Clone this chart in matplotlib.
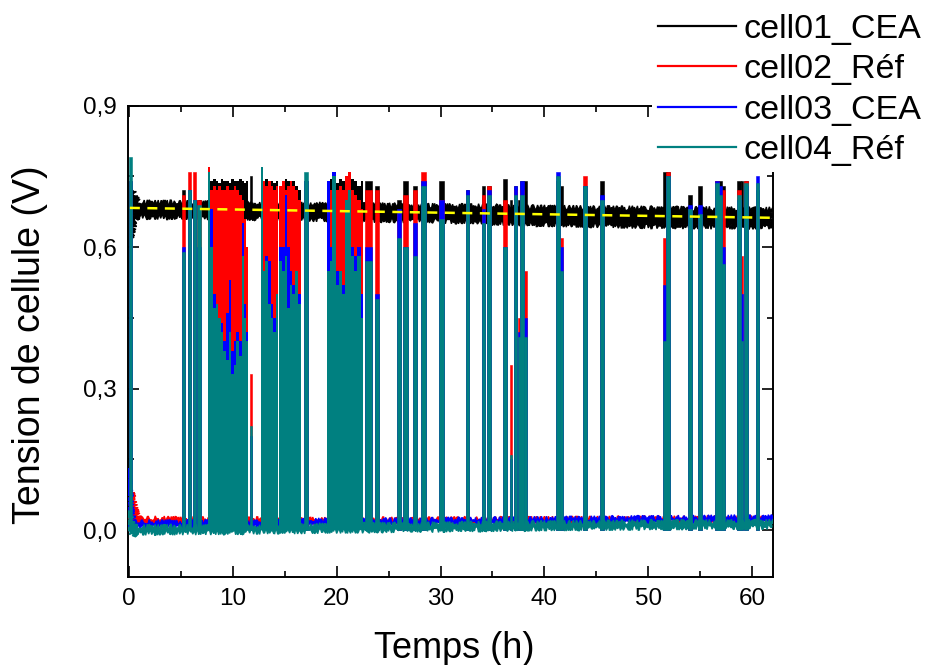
import numpy as np
import matplotlib
matplotlib.use('Agg')
import matplotlib.pyplot as plt
from matplotlib.lines import Line2D
from matplotlib.ticker import MultipleLocator, FuncFormatter

plt.rcParams['font.family'] = ['Liberation Sans', 'DejaVu Sans']

labels = ['cell01_CEA', 'cell02_Réf', 'cell03_CEA', 'cell04_Réf']
colors = ['#000000', '#FF0000', '#0000FF', '#008080']

# --- baseline bands (h, V) ---
base_t = [0.05, 0.35, 0.5, 0.75, 1.0, 10, 20, 30, 40, 50, 62]
red_lo = [0.014, 0.014, 0.014, 0.014, 0.014, 0.015, 0.016, 0.017, 0.018, 0.019, 0.020]
red_hi = [0.030, 0.080, 0.065, 0.040, 0.025, 0.023, 0.022, 0.023, 0.024, 0.025, 0.026]
blue_lo = [0.000, 0.008, 0.008, 0.008, 0.008, 0.009, 0.013, 0.014, 0.016, 0.018, 0.019]
blue_hi = [0.130, 0.030, 0.020, 0.018, 0.017, 0.018, 0.021, 0.022, 0.024, 0.026, 0.028]
teal_lo = [-0.005, -0.012, -0.010, -0.006, -0.006, -0.005, -0.002, 0.000, 0.003, 0.005, 0.006]
teal_hi = [0.040, 0.020, 0.010, 0.008, 0.007, 0.007, 0.011, 0.013, 0.015, 0.017, 0.018]

black_t = [0.3, 0.6, 1.0, 10, 20, 30, 40, 50, 62]
black_lo = [0.620, 0.655, 0.664, 0.662, 0.658, 0.655, 0.648, 0.644, 0.642]
black_hi = [0.730, 0.710, 0.695, 0.693, 0.690, 0.688, 0.684, 0.682, 0.680]

# linear fit (yellow dashed)
fit_t = [0.1, 62]
fit_v = [0.683, 0.662]

# --- isolated spikes ---
spike_t = [0.2, 5.25, 5.85, 6.3, 6.75, 11.8, 17.05, 23.05, 23.9, 26.0, 26.6, 27.55,
           28.35, 30.1, 32.6, 34.15, 34.65, 36.2, 36.8, 37.2, 37.6, 37.85, 38.15,
           41.3, 41.65, 43.9, 45.55, 51.6, 51.9, 54.0, 55.0, 56.6, 56.9, 57.2,
           58.7, 59.0, 59.4, 60.5]
spike_w = [0.3, 0.3, 0.35, 0.3, 0.3, 0.2, 0.35, 0.65, 0.4, 0.45, 0.45, 0.45,
           0.5, 0.4, 0.35, 0.35, 0.35, 0.35, 0.2, 0.35, 0.2, 0.35, 0.25,
           0.45, 0.3, 0.35, 0.35, 0.3, 0.35, 0.35, 0.4, 0.35, 0.35, 0.3,
           0.4, 0.25, 0.35, 0.35]
teal_pk = [0.79, 0.59, 0.72, 0.70, 0.69, 0.22, 0.76, 0.57, 0.49, 0.62, 0.60, 0.58,
           0.73, 0.66, 0.71, 0.65, 0.71, 0.60, 0.16, 0.71, 0.41, 0.71, 0.41,
           0.75, 0.55, 0.73, 0.70, 0.40, 0.75, 0.68, 0.67, 0.735, 0.71, 0.565,
           0.71, 0.40, 0.735, 0.735]
red_pk = [0.74, 0.71, 0.76, 0.76, 0.70, 0.33, 0.74, 0.72, 0.72, 0.67, 0.71, 0.72,
          0.76, 0.70, 0.70, 0.71, 0.73, 0.70, 0.35, 0.72, 0.45, 0.72, 0.55,
          0.74, 0.62, 0.75, 0.66, 0.62, 0.76, 0.68, 0.67, 0.74, 0.72, 0.72,
          0.72, 0.58, 0.74, 0.70]
blue_pk = [0.74, 0.60, 0.72, 0.70, 0.60, 0.20, 0.74, 0.60, 0.50, 0.68, 0.60, 0.65,
           0.74, 0.70, 0.72, 0.68, 0.72, 0.60, 0.15, 0.73, 0.42, 0.74, 0.45,
           0.76, 0.60, 0.73, 0.71, 0.52, 0.75, 0.69, 0.69, 0.74, 0.73, 0.60,
           0.70, 0.50, 0.73, 0.75]
black_pk = [0.72, 0.72, 0.70, 0.70, 0.70, 0.75, 0.74, 0.74, 0.73, 0.70, 0.74, 0.73,
            0.74, 0.74, 0.72, 0.73, 0.73, 0.745, 0.70, 0.73, 0.70, 0.74, 0.74,
            0.74, 0.73, 0.73, 0.74, 0.76, 0.76, 0.71, 0.73, 0.74, 0.74, 0.73,
            0.74, 0.74, 0.74, 0.72]

# --- dense oscillation blocks (segment edges, then top of each segment) ---
blkA_t = [7.65, 7.85, 8.1, 8.35, 8.6, 8.85, 9.1, 9.35, 9.6, 9.85, 10.1, 10.35, 10.6, 10.85, 11.1, 11.3, 11.5]
blkA_teal = [0.76, 0.60, 0.47, 0.48, 0.45, 0.42, 0.38, 0.36, 0.42, 0.33, 0.35, 0.40, 0.37, 0.58, 0.45, 0.40]
blkA_red = [0.77, 0.72, 0.73, 0.72, 0.73, 0.72, 0.72, 0.73, 0.72, 0.72, 0.73, 0.72, 0.71, 0.70, 0.66, 0.60]
blkA_blue = [0.70, 0.68, 0.50, 0.48, 0.45, 0.44, 0.40, 0.46, 0.53, 0.38, 0.40, 0.42, 0.40, 0.65, 0.48, 0.42]
blkA_black = [0.72, 0.74, 0.745, 0.74, 0.735, 0.745, 0.74, 0.74, 0.735, 0.745, 0.74, 0.74, 0.745, 0.74, 0.735, 0.74]

blkB_t = [12.7, 12.9, 13.15, 13.4, 13.65, 13.9, 14.15, 14.4, 14.5, 14.75, 15.0, 15.25, 15.5, 15.75, 16.0, 16.25, 16.6]
blkB_teal = [0.77, 0.55, 0.57, 0.48, 0.45, 0.42, 0.50, 0.0, 0.57, 0.55, 0.58, 0.47, 0.52, 0.50, 0.55, 0.48]
blkB_red = [0.77, 0.74, 0.73, 0.74, 0.73, 0.72, 0.73, 0.0, 0.73, 0.74, 0.72, 0.73, 0.74, 0.73, 0.72, 0.70]
blkB_blue = [0.75, 0.55, 0.58, 0.57, 0.48, 0.45, 0.50, 0.0, 0.60, 0.60, 0.71, 0.60, 0.55, 0.52, 0.55, 0.50]
blkB_black = [0.74, 0.74, 0.745, 0.73, 0.74, 0.735, 0.74, 0.69, 0.72, 0.74, 0.745, 0.74, 0.735, 0.74, 0.73, 0.72]

blkC_t = [19.1, 19.35, 19.6, 19.9, 20.2, 20.5, 20.8, 21.1, 21.4, 21.7, 22.0, 22.3, 22.55]
blkC_teal = [0.55, 0.57, 0.75, 0.52, 0.55, 0.50, 0.70, 0.72, 0.58, 0.55, 0.58, 0.45]
blkC_red = [0.71, 0.72, 0.76, 0.72, 0.73, 0.72, 0.75, 0.76, 0.72, 0.71, 0.70, 0.68]
blkC_blue = [0.74, 0.60, 0.76, 0.55, 0.55, 0.52, 0.70, 0.70, 0.60, 0.58, 0.60, 0.50]
blkC_black = [0.74, 0.745, 0.74, 0.735, 0.745, 0.74, 0.735, 0.74, 0.745, 0.74, 0.73, 0.74]

blocks_t = [blkA_t, blkB_t, blkC_t]
blocks_top = {
    0: [blkA_black, blkB_black, blkC_black],
    1: [blkA_red, blkB_red, blkC_red],
    2: [blkA_blue, blkB_blue, blkC_blue],
    3: [blkA_teal, blkB_teal, blkC_teal],
}
spike_tops = [black_pk, red_pk, blue_pk, teal_pk]
bands = [(black_t, black_lo, black_hi), (base_t, red_lo, red_hi),
         (base_t, blue_lo, blue_hi), (base_t, teal_lo, teal_hi)]

fig = plt.figure(figsize=(9.25, 6.65), dpi=100)
ax = fig.add_axes([0.1387, 0.132, 0.697, 0.7093])

for i, c in enumerate(colors):
    z = 2 + i
    floor = 0.66 if i == 0 else 0.0
    # noisy baseline band, drawn as a polygon so the sketch filter roughens it
    bt, blo, bhi = bands[i]
    px = list(bt) + list(bt)[::-1]
    py = list(bhi) + list(blo)[::-1]
    for poly in ax.fill(px, py, color=c, lw=1.0, zorder=z):
        poly.set_sketch_params(scale=2.5, length=1.5, randomness=4.0)
    # dense blocks
    for edges, top in zip(blocks_t, blocks_top[i]):
        top = np.append(top, top[-1])
        ax.fill_between(edges, floor, top, step='post', color=c, lw=0, zorder=z)
    # isolated spikes
    pk = np.array(spike_tops[i])
    ax.bar(spike_t, pk - floor, width=spike_w, bottom=floor, color=c,
           edgecolor=c, linewidth=0.4, zorder=z)

ax.plot(fit_t, fit_v, color='#FFFF00', lw=1.8, ls=(0, (4, 3)), zorder=10)

ax.set_xlim(-0.05, 62)
ax.set_ylim(-0.1, 0.9)
ax.xaxis.set_major_locator(MultipleLocator(10))
ax.xaxis.set_minor_locator(MultipleLocator(5))
ax.yaxis.set_major_locator(MultipleLocator(0.3))
ax.yaxis.set_minor_locator(MultipleLocator(0.15))
ax.yaxis.set_major_formatter(FuncFormatter(lambda v, p: f'{v:.1f}'.replace('.', ',')))
ax.tick_params(which='both', direction='in', top=True, right=True, width=1.2)
ax.tick_params(which='major', length=8, labelsize=17.5, pad=8)
ax.tick_params(which='minor', length=4.5)
for s in ax.spines.values():
    s.set_linewidth(1.4)

ax.set_xlabel('Temps (h)', fontsize=26, va='baseline')
ax.xaxis.set_label_coords(0.506, -0.171)
ax.set_ylabel('Tension de cellule (V)', fontsize=27)
ax.yaxis.set_label_coords(-0.124, 0.494)

handles = [Line2D([], [], color=c, lw=1.6) for c in colors]
leg = fig.legend(handles, labels, loc='upper left', bbox_to_anchor=(652 / 925, 1 - 8 / 665),
                 fontsize=24.5, handlelength=2.3, handletextpad=0.22, labelspacing=0.27,
                 borderpad=0.18, borderaxespad=0, frameon=True, fancybox=False,
                 framealpha=1)
leg.get_frame().set_facecolor('white')
leg.get_frame().set_edgecolor('none')

fig.savefig('out.png', dpi=100)
